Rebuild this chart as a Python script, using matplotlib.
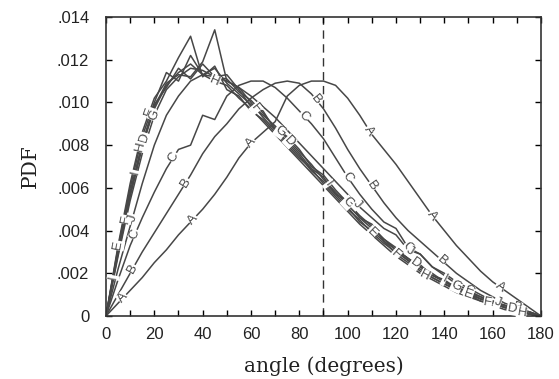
import numpy as np
import matplotlib.pyplot as plt

# angle grid (degrees)
angle = np.arange(0, 181, 5)

# PDF curves
A = [0, .0006, .0012, .0018, .0025, .0031, .0038, .0044, .0050, .0057,
     .0065, .0074, .0081, .0086, .0091, .0103, .0108, .0110, .0110, .0108,
     .0102, .0094, .0085, .0078, .0071, .0063, .0055, .0047, .0040, .0033,
     .0027, .0021, .0016, .0012, .0008, .0004, 0]
B = [0, .0010, .0020, .0030, .0039, .0048, .0057, .0066, .0076, .0084,
     .0090, .0097, .0102, .0106, .0109, .0110, .0109, .0104, .0097, .0088,
     .0078, .0069, .0061, .0053, .0046, .0040, .0035, .0030, .0025, .0020,
     .0016, .0012, .0009, .0006, .0004, .0002, 0]
C = [0, .0017, .0033, .0046, .0058, .0069, .0078, .0080, .0094, .0092,
     .0103, .0108, .0110, .0110, .0107, .0102, .0096, .0090, .0083, .0074,
     .0065, .0057, .0050, .0044, .0041, .0032, .0029, .0023, .0019, .0015,
     .0012, .0009, .0007, .0005, .0003, .0001, 0]
D = [0, .0031, .0057, .0080, .0097, .0108, .0114, .0118, .0113, .0116,
     .0109, .0104, .0099, .0094, .0089, .0083, .0077, .0071, .0064, .0058,
     .0052, .0046, .0041, .0036, .0031, .0027, .0023, .0019, .0016, .0013,
     .0011, .0008, .0006, .0004, .0003, .0002, 0]
E = [0, .0033, .0062, .0086, .0102, .0110, .0121, .0131, .0112, .0117,
     .0106, .0103, .0096, .0092, .0086, .0080, .0074, .0069, .0062, .0056,
     .0050, .0045, .0039, .0034, .0030, .0026, .0021, .0018, .0015, .0012,
     .0010, .0008, .0006, .0004, .0002, .0001, 0]
F = [0, .0029, .0056, .0079, .0098, .0109, .0113, .0112, .0119, .0134,
     .0110, .0107, .0100, .0093, .0087, .0081, .0075, .0068, .0063, .0057,
     .0051, .0044, .0040, .0035, .0029, .0025, .0022, .0018, .0015, .0013,
     .0010, .0007, .0006, .0004, .0003, .0001, 0]
G = [0, .0028, .0054, .0076, .0094, .0106, .0112, .0116, .0115, .0112,
     .0111, .0105, .0101, .0095, .0088, .0084, .0078, .0070, .0066, .0059,
     .0053, .0047, .0042, .0036, .0032, .0027, .0023, .0020, .0016, .0014,
     .0011, .0009, .0006, .0005, .0003, .0001, 0]
H = [0, .0032, .0060, .0084, .0100, .0114, .0110, .0122, .0113, .0110,
     .0108, .0102, .0097, .0091, .0085, .0079, .0073, .0067, .0061, .0055,
     .0049, .0043, .0038, .0033, .0028, .0024, .0020, .0017, .0014, .0011,
     .0009, .0007, .0005, .0003, .0002, .0001, 0]
I = [0, .0030, .0058, .0081, .0099, .0107, .0116, .0111, .0118, .0112,
     .0113, .0106, .0098, .0096, .0087, .0082, .0076, .0069, .0065, .0057,
     .0054, .0046, .0043, .0035, .0031, .0026, .0024, .0019, .0017, .0013,
     .0011, .0008, .0007, .0004, .0003, .0001, 0]
J = [0, .0022, .0042, .0062, .0080, .0094, .0103, .0110, .0113, .0112,
     .0110, .0107, .0103, .0098, .0093, .0087, .0081, .0075, .0069, .0063,
     .0057, .0051, .0046, .0041, .0038, .0031, .0029, .0023, .0020, .0016,
     .0013, .0010, .0007, .0005, .0003, .0002, 0]

curves = {'A': A, 'B': B, 'C': C, 'D': D, 'E': E,
          'F': F, 'G': G, 'H': H, 'I': I, 'J': J}

# where the letter tags sit along each curve (degrees)
tag_at = {'A': [7, 36, 60, 109, 135, 163],
          'B': [11, 33, 87, 110, 139, 170],
          'C': [12, 28, 82, 100, 125, 150],
          'D': [16, 76, 128, 168],
          'E': [5, 18, 110, 150],
          'F': [8, 62, 120, 158],
          'G': [20, 72, 100, 145],
          'H': [14, 45, 132, 172],
          'I': [3, 12, 92, 140],
          'J': [11, 104, 126, 162]}

yticks = [0, .002, .004, .006, .008, .010, .012, .014]
ytick_labels = ['0', '.002', '.004', '.006', '.008', '.010', '.012', '.014']

line_col = '#474747'

fig = plt.figure(figsize=(5.59, 3.79), dpi=100)
ax = fig.add_axes([0.1896, 0.1662, 0.7782, 0.7889])
ax.set_xlim(0, 180)
ax.set_ylim(0, 0.014)

for name, vals in curves.items():
    ax.plot(angle, vals, color=line_col, lw=1.1, zorder=2)

# letter tags, rotated along the local direction of the line
for name, vals in curves.items():
    for a in tag_at[name]:
        yy = np.interp(a, angle, vals)
        p1 = ax.transData.transform((a - 2, np.interp(a - 2, angle, vals)))
        p2 = ax.transData.transform((a + 2, np.interp(a + 2, angle, vals)))
        rot = np.degrees(np.arctan2(p2[1] - p1[1], p2[0] - p1[0]))
        ax.text(a, yy, name, rotation=rot, rotation_mode='anchor',
                ha='center', va='center', fontsize=9.5, color=line_col,
                family='Liberation Sans', zorder=3,
                bbox=dict(fc='white', ec='none', pad=0.3))

ax.axvline(90, color='#333333', lw=1, ls=(0, (6, 4)), zorder=1)

ax.set_xticks(range(0, 181, 20))
ax.set_xticks(range(0, 181, 10), minor=True)
ax.set_yticks(yticks)
ax.set_yticklabels(ytick_labels)
ax.tick_params(which='both', direction='in', top=True, right=True,
               labelsize=12, width=1, length=4)
ax.tick_params(axis='x', pad=8)
ax.tick_params(axis='y', pad=12)
for lab in ax.get_xticklabels() + ax.get_yticklabels():
    lab.set_family('Liberation Sans')
    lab.set_color('#222222')
for sp in ax.spines.values():
    sp.set_linewidth(1.2)
    sp.set_color('#333333')

ax.set_xlabel('angle (degrees)', family='DejaVu Serif', fontsize=14.5,
              labelpad=10, color='#222222')
ax.set_ylabel('PDF', family='DejaVu Serif', fontsize=14.5, labelpad=12,
              color='#222222')

fig.savefig('out.png', dpi=100)
